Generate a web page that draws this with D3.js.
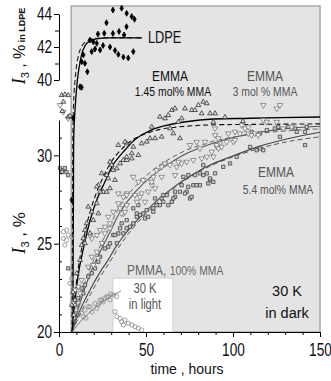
<!DOCTYPE html>
<html>
<head>
<meta charset="utf-8">
<script src="https://cdn.jsdelivr.net/npm/d3@7"></script>
<style>
  body { margin: 0; background: #fff; }
  svg text { font-family: "Liberation Sans", Arial, sans-serif; }
</style>
</head>
<body>
<div id="chart"></div>
<script>
// tick labels
const xTicks = [0, 50, 100, 150];
const xMinorTicks = [10, 20, 30, 40, 60, 70, 80, 90, 110, 120, 130, 140];
const yLowTicks = [20, 25, 30];
const yLowMinorTicks = [21, 22, 23, 24, 26, 27, 28, 29, 31];
const yTopTicks = [40, 42, 44];
const yTopMinorTicks = [41, 43];

// measured points [time (h), I3 (%)]
const ldpePoints = [
  [31.0, 44.24], [36.0, 44.35], [38.9, 44.04], [41.8, 43.85], [43.4, 43.68], [27.3, 43.47],
  [38.8, 43.23], [34.5, 42.94], [22.4, 42.79], [26.0, 42.83], [31.0, 42.82], [37.4, 42.73],
  [17.8, 42.42], [19.7, 42.32], [21.7, 42.22], [25.3, 42.09], [29.3, 42.0], [32.2, 41.79],
  [34.1, 41.55], [37.0, 41.39], [39.8, 41.33], [42.7, 41.72], [14.0, 41.52], [13.0, 41.11],
  [14.9, 41.01], [16.3, 40.5], [12.1, 39.59], [13.0, 39.55], [23.6, 41.82], [18.8, 41.72],
  [20.7, 41.88], [8.2, 37.7], [7.3, 32.73]
];

const emma145Points = [
  [1.5, 33.4], [3.4, 33.44], [5.3, 33.4], [2.5, 33.03], [1.9, 32.5], [5.3, 32.18], [6.3, 32.23],
  [34.1, 30.58], [38.9, 30.67], [37.9, 30.76], [37.0, 29.73], [38.9, 29.73], [35.1, 29.54],
  [29.3, 29.63], [30.3, 29.45], [33.2, 29.26], [24.5, 28.98], [27.4, 28.88], [22.6, 28.31],
  [28.3, 28.69], [32.2, 28.6], [21.7, 28.22], [25.5, 27.93], [27.4, 27.93], [16.8, 27.09],
  [18.8, 26.8], [41.8, 30.11], [31.2, 29.16], [29.3, 28.13], [23.6, 27.93], [21.7, 27.28],
  [22.6, 26.71], [19.7, 26.33], [17.8, 25.58], [14.9, 25.77], [14.0, 25.3], [13.0, 24.92],
  [15.9, 26.15], [14.9, 25.02], [12.1, 24.07], [10.2, 23.32], [9.2, 21.81], [7.3, 21.53],
  [8.0, 22.26], [8.6, 20.96], [58.0, 32.18], [60.9, 32.09], [62.8, 32.27], [64.8, 32.56],
  [66.7, 32.65], [72.4, 32.65], [76.3, 32.56], [78.2, 32.56], [80.1, 32.84], [82.9, 33.03],
  [84.9, 32.94], [82.0, 32.37], [86.8, 32.37], [89.7, 32.37], [88.7, 31.89], [70.5, 32.09],
  [68.6, 31.89], [63.8, 31.52], [65.7, 31.24], [53.3, 31.61], [59.0, 31.05], [55.2, 30.96],
  [52.3, 30.96], [50.4, 30.77], [47.5, 30.67], [42.7, 30.48], [45.6, 30.01], [41.8, 29.82],
  [38.9, 29.91], [69.5, 30.96], [95.4, 32.16], [105.7, 31.93]
];

const emma3Points = [
  [0.6, 32.84], [2.5, 32.46], [5.3, 32.09],
  [89.7, 31.14], [91.6, 30.96], [92.5, 30.67], [90.6, 30.48], [87.8, 30.2], [88.7, 29.92],
  [84.9, 29.92], [82.0, 29.82], [79.1, 30.76], [81.0, 30.39], [83.9, 30.76], [75.3, 30.58],
  [77.2, 29.73], [73.4, 29.63], [70.5, 29.54], [68.6, 29.63], [67.6, 29.35], [63.8, 29.45],
  [60.9, 29.54], [59.0, 29.35], [56.1, 29.16], [66.7, 28.88], [54.2, 28.78], [59.0, 28.78],
  [42.7, 28.78], [45.6, 28.5], [48.4, 28.6], [53.3, 28.31], [55.2, 28.13], [51.3, 27.94],
  [47.5, 27.84], [43.7, 27.75], [38.9, 27.84], [49.4, 27.37], [44.7, 27.37], [38.9, 27.18],
  [37.0, 26.71], [117.4, 32.84], [125.1, 32.65], [127.0, 32.84], [117.4, 31.99], [119.4, 31.89],
  [125.1, 31.89], [105.0, 31.71], [106.9, 31.52], [108.8, 31.61], [89.7, 31.52], [97.3, 31.24],
  [101.1, 31.33], [104.0, 31.24], [108.8, 31.24], [110.7, 31.14], [112.6, 31.24], [114.5, 31.14],
  [96.4, 30.76], [100.2, 30.76], [101.1, 30.86], [90.6, 30.58], [91.6, 30.39], [93.5, 30.48],
  [128.9, 31.52], [133.7, 31.61], [53.3, 28.5], [37.0, 27.65], [46.6, 27.65], [34.1, 27.28],
  [35.1, 27.0], [28.3, 26.52], [29.3, 26.15], [26.4, 25.96], [23.6, 25.77], [21.7, 25.49],
  [18.8, 25.3], [17.8, 25.49], [21.7, 24.54], [18.8, 24.26], [19.7, 23.79], [16.8, 23.69],
  [13.0, 22.94], [11.1, 22.56], [12.1, 22.19], [9.2, 22.38], [8.2, 21.71], [26.4, 25.58],
  [29.3, 25.87], [36.0, 26.71], [37.9, 26.8], [34.1, 27.84], [38.9, 27.75], [31.2, 26.8],
  [24.7, 25.03], [22.4, 24.19]
];

const emma54Points = [
  [0.6, 29.28], [2.3, 29.16], [3.4, 29.28], [4.3, 29.05], [5.2, 28.88], [1.7, 29.05], [5.3, 23.6],
  [110.7, 31.33], [115.5, 31.24], [119.4, 31.43], [124.1, 31.52], [126.0, 31.61], [131.8, 31.61],
  [135.6, 31.52], [136.6, 31.33], [141.4, 31.33], [142.4, 31.61], [141.4, 30.58], [127.0, 31.05],
  [113.6, 30.29], [115.5, 30.39], [117.4, 30.29], [109.8, 30.48], [102.1, 29.92], [98.3, 29.54],
  [94.4, 29.35], [89.7, 28.98], [86.8, 28.6], [84.9, 28.98], [81.0, 28.31], [77.2, 28.31],
  [74.3, 28.22], [73.4, 27.94], [69.5, 27.94], [66.7, 27.65], [61.9, 27.75], [64.8, 27.37],
  [58.0, 27.18], [75.3, 27.56], [82.9, 28.88], [82.9, 29.45], [86.8, 28.69], [88.7, 28.5],
  [85.8, 28.41], [79.1, 28.31], [81.0, 28.98], [78.2, 28.88], [74.3, 28.88], [71.4, 28.78],
  [70.5, 28.31], [76.2, 27.65], [72.4, 27.84], [66.7, 27.94], [65.7, 27.56], [62.8, 27.18],
  [59.0, 27.56], [59.9, 27.37], [56.1, 27.18], [55.2, 27.56], [54.2, 27.0], [50.4, 26.9],
  [48.4, 26.71], [46.6, 26.62], [49.4, 26.43], [44.7, 26.52], [42.7, 26.15], [40.8, 25.96],
  [38.9, 25.87], [37.0, 25.58], [38.9, 26.33], [35.1, 25.87], [34.1, 25.58], [31.2, 25.49],
  [33.2, 25.02], [28.3, 24.83], [42.7, 27.0], [45.6, 27.18], [51.3, 26.52], [54.2, 26.81],
  [59.9, 27.75], [36.0, 26.15], [32.2, 25.49], [29.3, 25.02], [26.4, 24.73], [23.6, 24.26],
  [22.6, 23.98], [20.7, 23.6], [18.8, 23.32], [16.8, 23.13], [14.9, 22.66], [13.0, 22.47],
  [14.0, 22.19], [10.9, 21.92], [9.2, 21.53], [44.7, 26.71]
];

const pmmaPoints = [
  [2.5, 25.67], [4.4, 25.77], [5.3, 25.49], [7.3, 25.39], [2.5, 25.3], [4.4, 25.2], [3.4, 24.92],
  [6.3, 22.75], [7.3, 23.04],
  [9.2, 20.68], [10.2, 21.24], [13.0, 21.06], [14.9, 21.24], [16.8, 21.43], [20.7, 21.62],
  [22.6, 21.53], [24.5, 21.81], [26.4, 21.91], [28.3, 22.0], [29.3, 21.81], [11.1, 21.62],
  [14.0, 20.87], [17.8, 21.43], [21.7, 21.34], [23.6, 21.81], [27.4, 22.0], [31.2, 22.09],
  [33.2, 22.0], [29.9, 22.15], [19.0, 21.13], [15.5, 20.79], [25.3, 21.7],
  [32.2, 21.15], [33.2, 20.87], [35.1, 20.77], [36.0, 20.58], [37.9, 20.68], [37.0, 20.4],
  [39.8, 20.49], [41.8, 20.4], [43.7, 20.3], [45.6, 20.21], [47.5, 20.11]
];

// fitted curves
const ldpeFit = [
  [8.0, 25.15], [8.3, 32.73], [8.6, 36.97], [9.8, 39.09], [10.9, 40.3], [12.1, 41.09],
  [13.8, 41.82], [16.1, 42.24], [19.0, 42.42], [23.6, 42.52], [29.3, 42.55], [47.7, 42.55]
];
const ldpeFitDashed = [
  [7.5, 25.15], [7.8, 32.73], [8.0, 36.97], [8.6, 39.09], [9.5, 40.3], [10.6, 41.21],
  [12.1, 41.82], [14.4, 42.24], [17.8, 42.45], [23.6, 42.55], [47.7, 42.55]
];
const emma145Fit = [
  [7.5, 20.0], [9.2, 21.8], [11.5, 23.5], [14.4, 24.9], [17.8, 26.3], [21.8, 27.5], [26.4, 28.5],
  [31.0, 29.45], [37.9, 30.3], [43.7, 30.9], [52.3, 31.4], [59.8, 31.65], [81, 32.0],
  [109.8, 32.1], [150, 32.17]
];
const emma145FitDashed = [
  [7.5, 20.0], [9.0, 21.9], [11.2, 23.7], [14.0, 25.2], [17.3, 26.6], [21.2, 27.8], [25.8, 28.85],
  [30.5, 29.7], [37.5, 30.5], [43.5, 30.95], [52, 31.3], [60, 31.5], [81, 31.7], [110, 31.75],
  [150, 31.78]
];
const emma3Fit = [
  [7.5, 20], [10.9, 21.24], [15.5, 22.66], [20.1, 23.79], [24.7, 24.75], [29.3, 25.65],
  [35.1, 26.79], [43.7, 27.92], [54.0, 28.88], [63.8, 29.56], [73.6, 30.12], [86.8, 30.63],
  [98.3, 30.97], [115.5, 31.31], [132.8, 31.54], [150, 31.65]
];
const emma3FitDashed = [
  [7.5, 20], [10.7, 21.4], [15.2, 22.9], [19.8, 24.05], [24.3, 25.0], [29.0, 25.95], [34.8, 27.1],
  [43.4, 28.2], [53.8, 29.15], [63.5, 29.8], [73.5, 30.3], [86.8, 30.75], [98.3, 31.0],
  [115.5, 31.25], [132.8, 31.4], [150, 31.5]
];
const emma54Fit = [
  [7.5, 20], [12.1, 21.24], [17.8, 22.38], [23.6, 23.39], [28.2, 24.07], [32.2, 24.75],
  [36.2, 25.32], [40.8, 25.88], [49.4, 26.79], [58.0, 27.58], [66.7, 28.26], [75.3, 28.82],
  [86.8, 29.45], [98.3, 29.9], [115.5, 30.52], [132.8, 30.97], [150, 31.31]
];
const emma54FitDashed = [
  [7.5, 20], [12.6, 21.1], [18.4, 22.2], [24.2, 23.2], [28.8, 23.9], [32.8, 24.55], [36.8, 25.15],
  [41.4, 25.75], [50, 26.7], [58.5, 27.5], [67, 28.2], [75.5, 28.78], [87, 29.4], [98.3, 29.85],
  [115.5, 30.4], [132.8, 30.8], [150, 31.05]
];
const pmmaFit = [
  [7.5, 20], [12.1, 20.57], [17.8, 21.13], [23.6, 21.58], [29.3, 21.98], [35.6, 22.32]
];

// dark period starts here; light box for PMMA
const darkStart = 7;
const lightBox = { from: 31, to: 65.5, top: 23.05 };

const margin = { top: 6, right: 11, bottom: 49, left: 59 };
const width = 331 - margin.left - margin.right;
const height = 381 - margin.top - margin.bottom;
const narrow = 0.8; // squeeze factor, reference type is condensed

const svg = d3.select('#chart').append('svg')
  .attr('width', width + margin.left + margin.right)
  .attr('height', height + margin.top + margin.bottom)
  .append('g')
  .attr('transform', `translate(${margin.left},${margin.top})`);

const x = d3.scaleLinear().domain([0, 150]).range([0, width]);
const yLow = d3.scaleLinear().domain([20, 32]).range([height, height - 212]);
const yTop = d3.scaleLinear().domain([40, 44]).range([74, 8]);

// plot background
svg.append('rect')
  .attr('x', x(darkStart))
  .attr('y', 0)
  .attr('width', x(150) - x(darkStart))
  .attr('height', height)
  .attr('fill', '#e4e4e4')
  .attr('stroke', '#a9a9a9')
  .attr('stroke-width', 1.5);

svg.append('rect')
  .attr('x', x(lightBox.from))
  .attr('y', yLow(lightBox.top))
  .attr('width', x(lightBox.to) - x(lightBox.from))
  .attr('height', height - yLow(lightBox.top))
  .attr('fill', '#fff')
  .attr('stroke', '#cfcfcf')
  .attr('stroke-width', 1);

// curves
function drawCurve(data, yScale, color, dash, w) {
  const line = d3.line()
    .x(d => x(d[0]))
    .y(d => yScale(d[1]))
    .curve(d3.curveCatmullRom.alpha(0.5));
  svg.append('path')
    .datum(data)
    .attr('d', line)
    .attr('fill', 'none')
    .attr('stroke', color)
    .attr('stroke-width', w || 1.1)
    .attr('stroke-dasharray', dash || null);
}

drawCurve(emma54FitDashed, yLow, '#555', '5,3', 1);
drawCurve(emma54Fit, yLow, '#444', null, 1.1);
drawCurve(emma3FitDashed, yLow, '#666', '5,3', 1);
drawCurve(emma3Fit, yLow, '#555', null, 1.1);
drawCurve(emma145FitDashed, yLow, '#111', '5,3', 1.1);
drawCurve(emma145Fit, yLow, '#000', null, 1.3);
drawCurve(pmmaFit, yLow, '#777', null, 1);
drawCurve(ldpeFitDashed, yTop, '#222', '5,3', 1.1);
drawCurve(ldpeFit, yTop, '#000', null, 1.3);

// markers
function drawPoints(data, yScale, type, size, stroke, fill, rot) {
  const sym = d3.symbol().type(type).size(size);
  svg.append('g')
    .selectAll('path')
    .data(data)
    .enter().append('path')
    .attr('d', sym)
    .attr('transform', d => `translate(${x(d[0])},${yScale(d[1])}) rotate(${rot || 0})`)
    .attr('fill', fill)
    .attr('stroke', stroke)
    .attr('stroke-width', 0.8);
}

drawPoints(pmmaPoints, yLow, d3.symbolCircle, 14, '#8a8a8a', 'none');
drawPoints(emma54Points, yLow, d3.symbolSquare, 11, '#444', '#c8c8c8');
drawPoints(emma3Points, yLow, d3.symbolTriangle, 13, '#777', '#f4f4f4', 180);
drawPoints(emma145Points, yLow, d3.symbolTriangle, 10, '#333', '#ddd');
drawPoints(ldpePoints, yTop, d3.symbolDiamond, 10, '#000', '#000');

// axes
const fmt = d3.format('d');
const xAxis = svg.append('g')
  .attr('transform', `translate(0,${height})`)
  .call(d3.axisBottom(x).tickValues(xTicks).tickFormat(fmt).tickSize(5).tickSizeOuter(0).tickPadding(6));
svg.append('g')
  .attr('transform', `translate(0,${height})`)
  .call(d3.axisBottom(x).tickValues(xMinorTicks).tickSize(3).tickFormat(''))
  .select('.domain').remove();

const yLowAxis = svg.append('g')
  .call(d3.axisLeft(yLow).tickValues(yLowTicks).tickFormat(fmt).tickSize(5).tickSizeOuter(0).tickPadding(4));
svg.append('g')
  .call(d3.axisLeft(yLow).tickValues(yLowMinorTicks).tickSize(-3).tickFormat(''))
  .select('.domain').remove();

const yTopAxis = svg.append('g')
  .call(d3.axisLeft(yTop).tickValues(yTopTicks).tickFormat(fmt).tickSize(5).tickSizeOuter(0).tickPadding(4));
svg.append('g')
  .call(d3.axisLeft(yTop).tickValues(yTopMinorTicks).tickSize(4).tickFormat(''))
  .select('.domain').remove();

[xAxis, yLowAxis, yTopAxis].forEach(g => {
  g.selectAll('text')
    .attr('transform', `scale(${narrow - 0.04},1)`)
    .style('font-family', '"Liberation Sans", Arial, sans-serif')
    .style('font-size', '18px')
    .style('fill', '#111');
});

// axis titles
svg.append('text')
  .attr('x', 128)
  .attr('y', height + 42)
  .attr('text-anchor', 'middle')
  .style('font-size', '14px')
  .style('fill', '#111')
  .text('time , hours');

function yTitle(cx, cy, size, extra) {
  const t = svg.append('text')
    .attr('transform', `translate(${cx},${cy}) rotate(-90)`)
    .attr('text-anchor', 'middle')
    .style('fill', '#111');
  t.append('tspan')
    .style('font-family', '"Liberation Serif", serif')
    .style('font-style', 'italic')
    .style('font-size', (size + 2) + 'px')
    .text('I');
  t.append('tspan')
    .attr('dy', 4)
    .style('font-size', '11px')
    .text('3');
  t.append('tspan')
    .attr('dy', -4)
    .style('font-size', size + 'px')
    .text(' , %');
  if (extra) {
    t.append('tspan')
      .style('font-size', '9px')
      .style('font-weight', 'bold')
      .text(' ' + extra);
  }
}
yTitle(-34, 227, 17);
yTitle(-34, 40, 16, 'in LDPE');

// series labels
function label(tx, ty, txt, size, color, anchor, sx) {
  svg.append('text')
    .attr('transform', `translate(${tx},${ty}) scale(${sx || narrow},1)`)
    .attr('text-anchor', anchor || 'middle')
    .style('font-size', size + 'px')
    .style('fill', color)
    .text(txt);
}

label(89, 37, 'LDPE', 16, '#111', 'start');
label(111, 75, 'EMMA', 15, '#111');
label(114, 90, '1.45 mol% MMA', 13, '#111');
label(206, 75, 'EMMA', 15, '#555');
label(206, 90, '3 mol % MMA', 13, '#555');
label(217, 171, 'EMMA', 15, '#555');
label(219, 188, '5.4 mol% MMA', 13, '#555');

const pm = svg.append('text')
  .attr('transform', `translate(68,269) scale(${narrow},1)`)
  .style('fill', '#666');
pm.append('tspan').style('font-size', '15px').text('PMMA, ');
pm.append('tspan').style('font-size', '13px').text('100% MMA');

label(86, 287, '30 K', 14, '#555');
label(86, 303, 'in light', 14, '#555');
label(228, 290, '30 K', 15, '#111', 'middle', 0.97);
label(228, 312, 'in dark', 15, '#111', 'middle', 0.97);
</script>
</body>
</html>
